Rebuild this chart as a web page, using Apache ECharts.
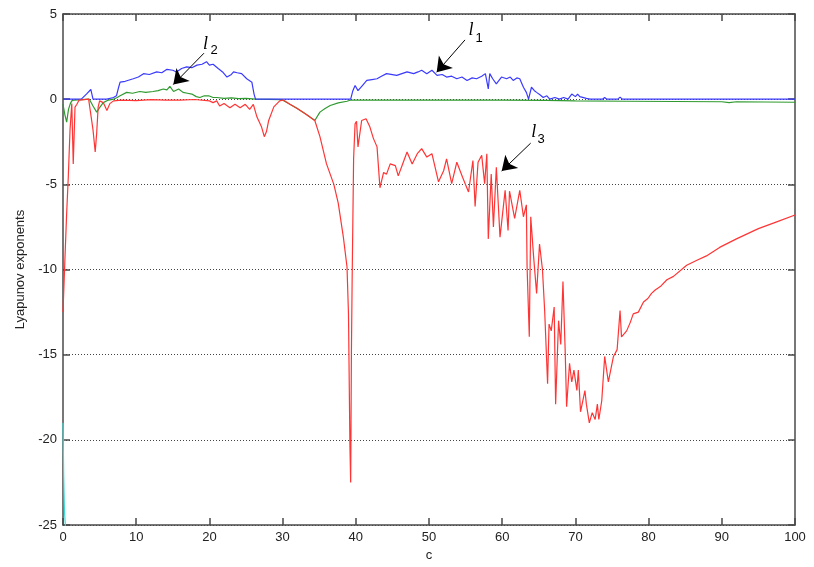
<!DOCTYPE html>
<html>
<head>
<meta charset="utf-8">
<script src="https://cdn.jsdelivr.net/npm/echarts@6/dist/echarts.min.js"></script>
<style>
	html, body { margin: 0; padding: 0; background: #fff; }
	#chart { width: 814px; height: 567px; }
</style>
</head>
<body>
<div id="chart"></div>
<script>
// x axis ticks / y axis ticks
var xTicks = [0, 10, 20, 30, 40, 50, 60, 70, 80, 90, 100];
var yTicks = [-25, -20, -15, -10, -5, 0, 5];

// l1 (blue) - [c, value]
var l1 = [[0,0],[2.5,0],[3.2,0.3],[3.8,0.57],[4.1,0],[6,0],[6.9,0.1],[7.3,0.2],[7.6,0.7],[7.8,1.0],[8.5,1.05],[9.6,1.2],[10.3,1.3],
	[11,1.5],[11.8,1.45],[12.8,1.6],[13.5,1.55],[14.2,1.75],[15,1.7],[15.5,1.6],[16.2,1.8],[16.9,1.9],[17.6,1.85],[18.3,2.0],[19,2.05],
	[19.6,2.2],[20,2.0],[20.5,2.05],[21.2,1.8],[21.8,1.6],[22.4,1.3],[23,1.45],[23.3,1.6],[23.8,1.55],[24.4,1.5],[25.1,1.2],[25.8,1.0],
	[26.1,0.3],[26.3,0],[39.3,0],[39.6,0.5],[39.9,0.8],[40.3,0.5],[40.9,0.8],[41.5,1.1],[42.2,1.15],[42.9,1.2],[43.5,1.35],[44.2,1.5],
	[45.6,1.4],[46.3,1.5],[47,1.6],[47.9,1.5],[48.5,1.6],[49,1.7],[49.7,1.5],[50.4,1.7],[51.1,1.4],[51.8,1.45],[52.4,1.3],[53.1,1.35],
	[53.8,1.2],[54.5,1.3],[55.2,1.1],[55.9,1.25],[56.5,1.2],[57.2,1.35],[57.7,1.5],[58.1,0.6],[58.3,1.5],[58.7,1.2],[59.2,0.9],[59.9,1.3],
	[60.6,1.2],[61.1,1.3],[61.5,1.1],[62,1.25],[62.4,1.2],[62.9,0.7],[63.3,0.4],[63.6,0],[64,0.7],[64.4,0.5],[64.7,0.4],[65.2,0.25],
	[65.6,0.1],[66.1,0.2],[66.5,0],[67.2,0.1],[67.8,0],[68.4,0.1],[69,0],[69.5,0.3],[70,0.15],[70.3,0.3],[70.6,0.15],[71.5,0.05],[72,0],
	[73.7,0],[74,0.1],[74.3,0],[75.8,0],[76.1,0.12],[76.4,0],[100,0]];

// l2 (green)
var l2 = [[0,-0.3],[0.25,-0.9],[0.5,-1.35],[0.75,-0.6],[1.0,-0.26],[1.2,-0.1],[1.5,-0.05],[3.6,0],[4.1,-0.4],[4.6,-0.76],[5.0,-0.5],
	[5.5,-0.2],[6.2,-0.05],[6.9,0],[7.4,0.1],[7.8,0.2],[8.7,0.4],[9.5,0.35],[10.5,0.45],[11.3,0.4],[12.3,0.45],[13,0.5],[13.7,0.6],
	[14.2,0.55],[14.6,0.75],[15.1,0.45],[15.8,0.6],[16.4,0.4],[17,0.35],[17.6,0.3],[18.2,0.15],[18.7,0.1],[19.3,0.2],[19.9,0.2],[20.5,0.1],
	[21,0.1],[22,0.05],[23,0.08],[24,0.03],[25,0.05],[26.3,0],[29.9,-0.03],[31,-0.3],[32,-0.55],[33.2,-0.88],[34.4,-1.25],[35.1,-0.76],
	[35.8,-0.55],[36.5,-0.37],[37.6,-0.22],[38.8,-0.12],[39.3,-0.05],[50,-0.05],[60,-0.05],[66,-0.07],[70,-0.1],[77,-0.12],[90,-0.15],
	[91,-0.2],[92,-0.15],[100,-0.18]];

// l3 (red)
var l3 = [[0,-12.5],[0.27,-9.3],[0.5,-6.7],[0.72,-4.6],[0.96,-1.8],[1.2,-0.26],[1.4,-3.8],[1.64,-0.47],[1.9,-0.3],[2.2,-0.05],[3.5,0],
	[4.1,-1.8],[4.4,-3.1],[4.6,-2.0],[4.8,-0.47],[5.0,-0.1],[5.5,-0.2],[6.0,-0.66],[6.4,-0.26],[6.9,-0.1],[8,-0.05],[10,-0.08],[12,-0.03],
	[14,-0.05],[16,-0.05],[18,-0.02],[20,-0.1],[20.5,-0.2],[21,-0.1],[21.4,-0.4],[22,-0.25],[22.8,-0.5],[23.5,-0.3],[24.2,-0.5],[24.9,-0.3],
	[25.5,-0.6],[26,-0.3],[26.5,-1.05],[27.1,-1.6],[27.5,-2.2],[27.8,-1.9],[28.1,-1.25],[28.8,-0.45],[29.6,-0.1],[30.1,-0.05],[31,-0.3],
	[32,-0.55],[33.2,-0.88],[34.4,-1.25],[35.1,-2.2],[36,-3.8],[37,-5],[37.6,-6.1],[38.3,-8.1],[38.8,-9.85],[39.0,-12.6],[39.2,-20.4],
	[39.3,-22.5],[39.4,-14.9],[39.5,-10.6],[39.7,-3.5],[39.9,-1.45],[40.1,-1.3],[40.3,-2.8],[40.8,-1.25],[41.4,-1.15],[41.9,-1.6],
	[42.4,-2.3],[42.9,-2.8],[43.3,-5.2],[43.8,-4.3],[44.2,-4.4],[44.7,-3.8],[45.4,-3.9],[45.8,-4.5],[46.4,-3.8],[47.0,-3.1],[47.7,-3.8],
	[48.4,-3.2],[49.0,-2.9],[49.7,-3.4],[50.4,-3.2],[51.3,-4.85],[52.0,-4.2],[52.4,-3.5],[53.1,-4.96],[53.8,-3.7],[54.6,-4.6],[55.4,-5.45],
	[56.0,-3.6],[56.3,-6.3],[56.7,-3.7],[57.2,-3.3],[57.6,-4.96],[57.9,-3.2],[58.1,-8.2],[58.5,-4.4],[58.8,-7.5],[59.2,-4.0],[59.7,-8.1],
	[60.4,-5.35],[60.8,-7.7],[61.0,-5.4],[61.7,-7.0],[62.4,-5.35],[62.9,-6.9],[63.3,-6.2],[63.4,-9.85],[63.6,-12.6],[63.7,-13.95],
	[63.9,-6.9],[64.3,-9.3],[64.7,-11.4],[65.1,-8.5],[65.5,-10.0],[65.8,-12.4],[66.2,-16.7],[66.4,-13.2],[66.7,-13.6],[67.1,-12.2],
	[67.3,-17.9],[67.7,-13.0],[68.0,-14.4],[68.3,-10.7],[68.6,-14.7],[68.8,-18.05],[69.2,-15.5],[69.5,-16.6],[69.8,-15.9],[70.2,-17.1],
	[70.4,-15.9],[70.7,-18.35],[71.3,-17.1],[71.5,-17.9],[71.9,-19.0],[72.3,-18.4],[72.7,-18.8],[73.0,-17.9],[73.2,-18.8],[73.6,-17.7],
	[74.0,-15.1],[74.5,-16.6],[75.2,-15.1],[75.7,-14.7],[76.1,-12.4],[76.3,-13.95],[77.0,-13.6],[77.5,-13.1],[77.9,-12.6],[78.6,-12.5],
	[79.3,-11.9],[79.9,-11.7],[80.4,-11.4],[80.9,-11.2],[81.6,-11.0],[82.5,-10.6],[83.4,-10.4],[85.2,-9.75],[86.6,-9.45],[87.9,-9.2],
	[89.7,-8.7],[92,-8.2],[95,-7.6],[97.5,-7.2],[100,-6.8]];

// l4 (cyan), goes off the bottom right away
var l4 = [[0,-19],[0.1,-22.2],[0.2,-24.2],[0.4,-25.5],[0.6,-27]];

// annotation arrows: [from, to] and label positions
var arrows = [
	[[54.92, 3.48], [51.05, 1.58]],
	[[19.26, 2.70], [15.07, 0.86]],
	[[63.89, -2.58], [59.93, -4.22]]
];
var letterPos = [[55.74, 4.03], [19.47, 3.24], [64.3, -1.92]];
var subPos = [[56.83, 3.56], [20.63, 2.85], [65.3, -2.36]];
var subText = ['1', '2', '3'];

var font = 'Liberation Sans, Arial, sans-serif';

function lineSeries(name, data, color) {
	return {
		name: name,
		type: 'line',
		data: data,
		showSymbol: false,
		symbol: 'none',
		clip: true,
		lineStyle: { color: color, width: 1.2 },
		animation: false
	};
}

function boxAxis(pos, isX) {
	var ax = {
		type: 'value',
		position: pos,
		axisLine: { show: true, onZero: false, lineStyle: { color: '#4a4a4a', width: 1.5 } },
		axisTick: { show: true, inside: true, length: 7, lineStyle: { color: '#4a4a4a', width: 1.5 } },
		axisLabel: { fontFamily: font, fontSize: 13, color: '#222', margin: 6 },
		splitLine: { show: false }
	};
	if(isX) {
		ax.min = xTicks[0];
		ax.max = xTicks[xTicks.length - 1];
		ax.interval = 10;
	} else {
		ax.min = yTicks[0];
		ax.max = yTicks[yTicks.length - 1];
		ax.interval = 5;
	}
	return ax;
}

var chart = echarts.init(document.getElementById('chart'));

var annot = {
	type: 'line',
	data: [],
	silent: true,
	animation: false,
	markLine: {
		silent: true,
		animation: false,
		symbol: ['none', 'arrow'],
		symbolSize: 14,
		label: { show: false },
		lineStyle: { color: '#000', width: 1, type: 'solid' },
		data: arrows.map(function(a) {
			return [{ coord: a[0] }, { coord: a[1] }];
		})
	},
	markPoint: {
		silent: true,
		animation: false,
		symbol: 'rect',
		symbolSize: 0,
		data: letterPos.map(function(p) {
			return {
				coord: p,
				label: {
					show: true, position: 'inside', formatter: 'l', color: '#000',
					fontFamily: 'Liberation Serif, Times New Roman, serif', fontStyle: 'italic', fontSize: 18
				}
			};
		}).concat(subPos.map(function(p, i) {
			return {
				coord: p,
				label: {
					show: true, position: 'inside', formatter: subText[i], color: '#000',
					fontFamily: font, fontSize: 13
				}
			};
		}))
	}
};

var xBottom = boxAxis('bottom', true);
xBottom.name = 'c';
xBottom.nameLocation = 'middle';
xBottom.nameGap = 19;
xBottom.nameTextStyle = { fontFamily: font, fontSize: 13, color: '#222' };
var xTop = boxAxis('top', true);
xTop.axisLabel = { show: false };

var yLeft = boxAxis('left', false);
yLeft.name = 'Lyapunov exponents';
yLeft.nameLocation = 'middle';
yLeft.nameGap = 35;
yLeft.nameTextStyle = { fontFamily: font, fontSize: 13, color: '#222' };
yLeft.splitLine = { show: true, lineStyle: { color: '#444', width: 1, type: [1, 2] } };
var yRight = boxAxis('right', false);
yRight.axisLabel = { show: false };

var option = {
	backgroundColor: '#fff',
	animation: false,
	grid: { left: 63, right: 19, top: 14, bottom: 41 },
	xAxis: [xBottom, xTop],
	yAxis: [yLeft, yRight],
	series: [
		lineSeries('l2', l2, '#2f9a2f'),
		lineSeries('l1', l1, '#3a3aff'),
		lineSeries('l3', l3, '#ff3535'),
		lineSeries('l4', l4, '#3cdcd8'),
		annot
	]
};

chart.setOption(option);
</script>
</body>
</html>
